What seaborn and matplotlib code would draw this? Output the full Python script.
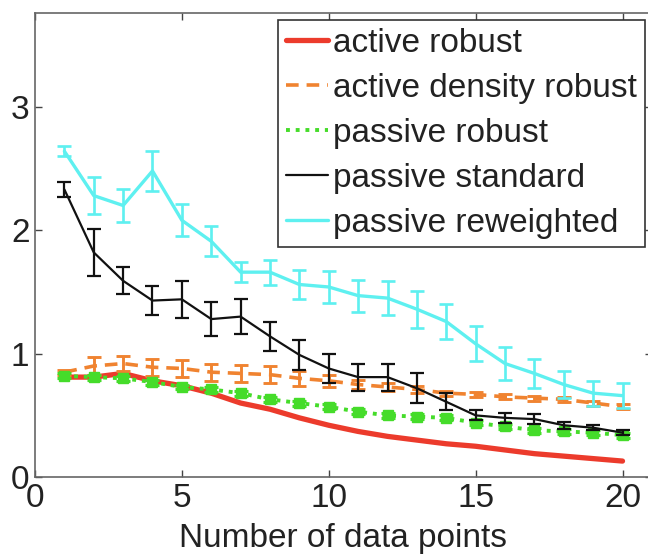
import numpy as np
import pandas as pd
import matplotlib
matplotlib.use("Agg")
import matplotlib.pyplot as plt
import seaborn as sns

# ---- data ----
x_points = list(range(1, 21))
active_robust = [0.81, 0.81, 0.84, 0.78, 0.74, 0.68, 0.60, 0.55, 0.48, 0.42,
                 0.37, 0.33, 0.30, 0.27, 0.25, 0.22, 0.19, 0.17, 0.15, 0.13]
active_density = [0.85, 0.90, 0.92, 0.89, 0.88, 0.85, 0.84, 0.83, 0.80, 0.78,
                  0.75, 0.73, 0.71, 0.68, 0.67, 0.65, 0.64, 0.63, 0.60, 0.57]
active_density_err = [0.02, 0.07, 0.06, 0.07, 0.07, 0.07, 0.07, 0.07, 0.06, 0.05,
                      0.04, 0.03, 0.03, 0.02, 0.02, 0.02, 0.02, 0.02, 0.02, 0.02]
passive_robust = [0.82, 0.81, 0.80, 0.77, 0.73, 0.71, 0.68, 0.63, 0.60, 0.57,
                  0.53, 0.50, 0.49, 0.48, 0.44, 0.41, 0.38, 0.37, 0.36, 0.34]
passive_robust_err = [0.02] * 20
passive_standard = [2.33, 1.82, 1.59, 1.43, 1.44, 1.28, 1.30, 1.14, 0.99, 0.88,
                    0.81, 0.81, 0.72, 0.61, 0.50, 0.48, 0.47, 0.42, 0.40, 0.36]
passive_standard_err = [0.06, 0.19, 0.11, 0.12, 0.15, 0.14, 0.14, 0.12, 0.12, 0.12,
                        0.11, 0.11, 0.12, 0.07, 0.04, 0.04, 0.04, 0.03, 0.02, 0.02]
passive_reweighted = [2.64, 2.28, 2.20, 2.48, 2.08, 1.91, 1.66, 1.66, 1.56, 1.54,
                      1.47, 1.45, 1.36, 1.26, 1.08, 0.92, 0.84, 0.75, 0.68, 0.66]
passive_reweighted_err = [0.04, 0.15, 0.13, 0.16, 0.13, 0.12, 0.08, 0.10, 0.12, 0.13,
                          0.13, 0.14, 0.15, 0.14, 0.14, 0.13, 0.12, 0.11, 0.10, 0.10]
labels = ["active robust", "active density robust", "passive robust",
          "passive standard", "passive reweighted"]
x_ticks = [0, 5, 10, 15, 20]
y_ticks = [0, 1, 2, 3]

sns.set_theme(style="white")
plt.rcParams['font.family'] = ['Liberation Sans', 'DejaVu Sans']

fig = plt.figure(figsize=(6.48, 5.6), dpi=100)
ax = fig.add_axes([0.054, 0.148, 0.952, 0.829])

red, orange, green, black, cyan = "#ec3b2c", "#f08330", "#45dc2a", "#111111", "#5ef0f0"
FS = 24

series = [
    (active_robust, None, red, "-", 3.8, labels[0]),
    (active_density, active_density_err, orange, (0, (3.5, 2.2)), 2.6, labels[1]),
    (passive_robust, passive_robust_err, green, (0, (1, 1.5)), 2.8, labels[2]),
    (passive_standard, passive_standard_err, black, "-", 1.6, labels[3]),
    (passive_reweighted, passive_reweighted_err, cyan, "-", 2.4, labels[4]),
]

for vals, err, col, ls, lw, lab in series:
    df = pd.DataFrame({"x": x_points, "y": vals})
    sns.lineplot(data=df, x="x", y="y", color=col, linestyle=ls, linewidth=lw,
                 label=lab, ax=ax)
    if err is not None:
        ax.errorbar(x_points, vals, yerr=err, fmt="none", ecolor=col,
                    elinewidth=max(lw * 0.8, 1.6), capsize=5,
                    capthick=max(lw * 0.8, 1.6))
    if lab == "passive robust":
        ax.plot(x_points, vals, linestyle="none", marker="s", markersize=7,
                color=col)

ax.set_xlim(0, 21)
ax.set_ylim(0, 3.76)
ax.set_xticks(x_ticks)
ax.set_yticks(y_ticks)
ax.tick_params(direction="in", length=5, width=1, colors="#444444",
               labelsize=FS, labelcolor="#222222", top=True, right=True,
               bottom=True, left=True, pad=4)
for s in ax.spines.values():
    s.set_color("#666666")
    s.set_linewidth(1.2)
ax.set_xlabel("Number of data points", fontsize=FS, color="#222222", labelpad=7)
ax.set_ylabel("")

leg = ax.legend(loc="upper right", fontsize=FS, frameon=True, fancybox=False,
                edgecolor="#333333", framealpha=1, handlelength=1.25,
                handletextpad=0.15, labelspacing=0.42, borderpad=0.25,
                borderaxespad=0.2)
leg.get_frame().set_linewidth(1.2)
for t in leg.get_texts():
    t.set_color("#222222")

fig.savefig("out.png", dpi=100)
